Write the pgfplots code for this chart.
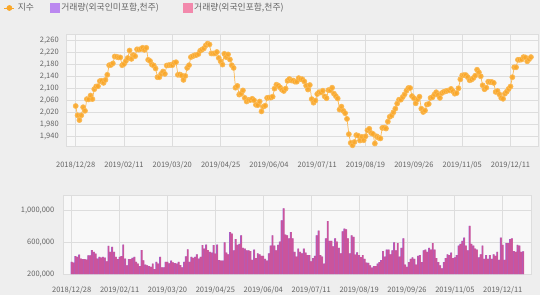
\documentclass[border=0pt]{standalone}
\usepackage{pgfplots}
\pgfplotsset{compat=1.18}
\usepackage{pgfplotstable}
\usepackage{fontspec}
\setmainfont{Noto Sans CJK KR}
\definecolor{bgC}{RGB}{238,238,238}
\definecolor{plotC}{RGB}{248,248,248}
\definecolor{gridC}{RGB}{221,221,221}
\definecolor{oraC}{RGB}{250,167,40}
\definecolor{purC}{RGB}{150,100,220}
\definecolor{pinC}{RGB}{215,80,140}
\definecolor{purL}{RGB}{187,136,240}
\definecolor{pinL}{RGB}{242,137,172}
\definecolor{txtC}{RGB}{100,100,100}

\pgfplotstableread{
d idx vol
0 2041 355
1 2010 345
2 1994 425
3 2010 416
4 2037 446
5 2025 395
6 2064 387
7 2063 387
8 2076 382
9 2064 437
10 2097 437
11 2106 501
12 2107 480
13 2124 459
14 2125 395
15 2118 416
16 2128 408
17 2145 416
18 2177 408
19 2178 361
20 2183 556
21 2206 480
22 2205 543
23 2203 480
24 2203 416
25 2177 387
26 2181 416
27 2191 425
28 2201 573
29 2226 395
30 2198 310
31 2211 387
32 2207 387
33 2230 403
34 2229 416
35 2231 353
36 2235 331
37 2228 301
38 2235 501
39 2195 374
40 2191 319
41 2179 310
42 2176 301
43 2166 289
44 2137 331
45 2137 263
46 2148 353
47 2156 331
48 2148 418
49 2176 283
50 2177 283
51 2178 355
52 2177 355
53 2185 334
54 2187 368
55 2145 347
56 2146 338
57 2143 330
58 2128 353
59 2141 313
60 2168 283
61 2177 353
62 2204 424
63 2207 513
64 2210 353
65 2211 416
66 2214 403
67 2225 416
68 2229 450
69 2233 395
70 2243 416
71 2249 564
72 2246 522
73 2216 573
74 2216 501
75 2216 480
76 2221 471
77 2201 564
78 2190 459
79 2179 573
80 2215 375
81 2204 370
82 2213 370
83 2196 600
84 2177 470
85 2168 450
86 2102 730
87 2108 710
88 2079 500
89 2082 640
90 2093 570
91 2068 580
92 2056 690
93 2061 530
94 2061 520
95 2065 500
96 2060 500
97 2045 490
98 2044 380
99 2056 510
100 2023 400
101 2039 460
102 2042 450
103 2068 430
104 2069 430
105 2069 390
106 2072 370
107 2099 460
108 2112 560
109 2109 690
110 2103 560
111 2095 500
112 2091 570
113 2099 610
114 2125 880
115 2131 1030
116 2126 700
117 2126 690
118 2122 650
119 2122 730
120 2134 650
121 2131 480
122 2130 420
123 2123 520
124 2109 480
125 2096 460
126 2111 520
127 2064 470
128 2052 440
129 2059 440
130 2081 360
131 2087 400
132 2086 430
133 2092 690
134 2073 750
135 2067 440
136 2094 420
137 2093 330
138 2102 650
139 2082 870
140 2074 620
141 2066 620
142 2029 550
143 2039 650
144 2025 610
145 2017 530
146 1998 460
147 1947 740
148 1918 775
149 1910 765
150 1921 650
151 1944 460
152 1942 690
153 1926 670
154 1938 445
155 1927 475
156 1940 440
157 1960 415
158 1965 440
159 1951 390
160 1948 345
161 1916 340
162 1940 310
163 1935 280
164 1933 300
165 1968 300
166 1969 330
167 1966 350
168 1989 375
169 2005 490
170 2009 420
171 2020 510
172 2032 510
173 2049 450
174 2062 500
175 2062 600
176 2071 500
177 2080 590
178 2092 420
179 2101 530
180 2101 650
181 2074 320
182 2067 290
183 2050 350
184 2063 390
185 2072 410
186 2032 390
187 2021 320
188 2026 430
189 2046 440
190 2048 350
191 2068 500
192 2070 510
193 2079 480
194 2087 530
195 2078 510
196 2068 590
197 2084 510
198 2088 400
199 2090 350
200 2092 310
201 2093 270
202 2098 350
203 2090 400
204 2082 450
205 2084 440
206 2100 470
207 2130 400
208 2143 410
209 2144 440
210 2144 560
211 2137 580
212 2127 620
213 2129 660
214 2134 560
215 2142 500
216 2162 810
217 2153 580
218 2140 560
219 2110 520
220 2097 510
221 2102 410
222 2122 450
223 2121 560
224 2121 390
225 2118 440
226 2088 390
227 2091 440
228 2080 390
229 2068 450
230 2065 430
231 2082 480
232 2089 380
233 2098 660
234 2106 570
235 2137 380
236 2170 590
237 2170 590
238 2195 640
239 2195 650
240 2196 490
241 2204 480
242 2203 570
243 2190 560
244 2197 480
245 2204 488
}\data

\pgfplotsset{
  common/.style={
    scale only axis, anchor=south west,
    xtick={0,26,52,78,104,130,156,182,208,234},
    xticklabels={2018/12/28,2019/02/11,2019/03/20,2019/04/25,2019/06/04,2019/07/11,2019/08/19,2019/09/26,2019/11/05,2019/12/11},
    grid=major, major grid style={draw=gridC, line width=0.8pt},
    axis background/.style={fill=plotC},
    axis line style={draw=gridC, line width=0.6pt},
    major tick length=0pt,
    tick label style={font=\fontsize{7.5}{9}\selectfont, text=txtC},
    /pgf/number format/assume math mode=true,
  }
}

\begin{document}
\begin{tikzpicture}
\fill[bgC] (0,0) rectangle (540pt,295pt);
\useasboundingbox (0,0) rectangle (540pt,295pt);

\begin{axis}[common,
  at={(66.7pt,148.7pt)},
  width=471.3pt, height=112.3pt,
  xmin=-4.84, xmax=248.8, ymin=1906.7, ymax=2281,
  ytick={1940,1980,2020,2060,2100,2140,2180,2220,2260},
  yticklabel style={/pgf/number format/1000 sep={,}, xshift=-4.5pt},
  xticklabel style={yshift=-12pt},
  legend columns=3,
  legend style={at={(-0.1335,1.2315)}, anchor=west, draw=none, fill=none,
    inner sep=0pt, font=\fontsize{8.8}{10}\selectfont, text=txtC,
    /tikz/column 1/.style={column sep=1pt},
    /tikz/column 2/.style={column sep=14pt},
    /tikz/column 4/.style={column sep=22pt}},
]
\addplot[forget plot, oraC!80, line width=0.7pt, mark=*, mark size=2.5pt,
  mark options={draw=none, fill=oraC, fill opacity=0.9}]
  table[x=d, y=idx]{\data};
\addlegendimage{legend image code/.code={\draw[oraC,line width=0.8pt] (0pt,0pt)--(10pt,0pt); \fill[oraC] (5pt,0pt) circle (2.6pt);}}
\addlegendentry{지수}
\addlegendimage{legend image code/.code={\fill[purL] (0pt,-4.5pt) rectangle (9pt,4.5pt);}}
\addlegendentry{거래량(외국인미포함,천주)}
\addlegendimage{legend image code/.code={\fill[pinL] (0pt,-4.5pt) rectangle (9pt,4.5pt);}}
\addlegendentry{거래량(외국인포함,천주)}
\end{axis}

\begin{axis}[common,
  at={(63.3pt,21pt)},
  width=468.4pt, height=79pt,
  xmin=-4.56, xmax=249.7, ymin=200, ymax=1200,
  ytick={200,600,1000},
  yticklabels={{200,000},{600,000},{1,000,000}},
  yticklabel style={xshift=-5.5pt},
  xticklabel style={yshift=-9pt},
]
\addplot[ybar, bar width=1.7pt, bar shift=-0.15pt, fill=purC, draw=none]
  table[x=d, y=vol]{\data};
\addplot[ybar, bar width=1.5pt, bar shift=0.2pt, fill=pinC, fill opacity=0.8, draw=none]
  table[x=d, y=vol]{\data};
\end{axis}
\end{tikzpicture}
\end{document}
